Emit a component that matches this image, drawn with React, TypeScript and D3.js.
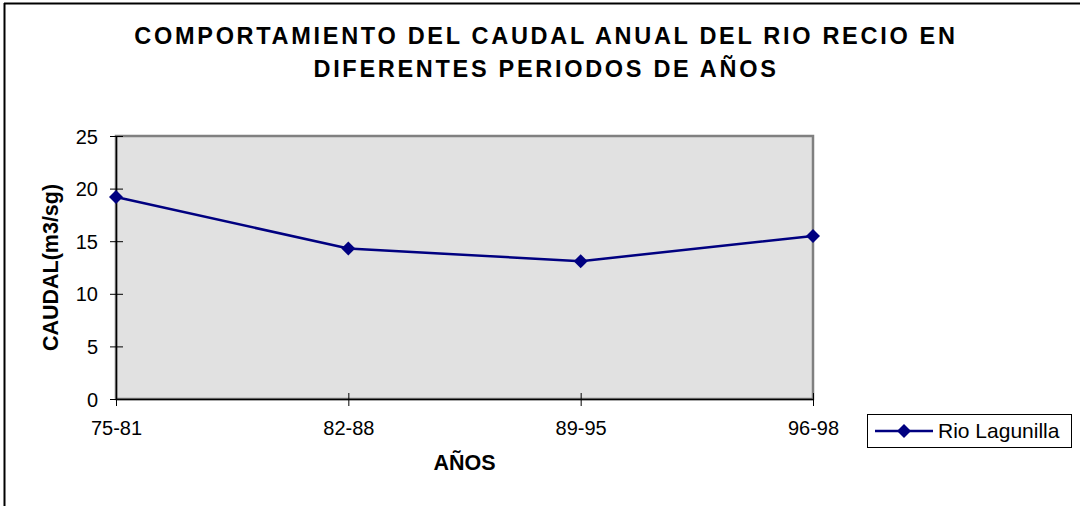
import { useEffect, useRef } from "react";
import * as d3 from "d3";

const PERIODS = ["75-81", "82-88", "89-95", "96-98"];
const CAUDAL = [19.2, 14.3, 13.1, 15.5];
const Y_TICKS = [0, 5, 10, 15, 20, 25];
const TITLE_LINES = [
  "COMPORTAMIENTO DEL CAUDAL ANUAL DEL RIO RECIO EN",
  "DIFERENTES PERIODOS DE AÑOS",
];
const SERIES_NAME = "Rio Lagunilla";

export default function App() {
  const svgRef = useRef<SVGSVGElement | null>(null);

  useEffect(() => {
    if (!svgRef.current) return;
    const W = 1080, H = 506;
    const plot = { left: 116, right: 813, top: 136, bottom: 399 };
    const font = "Arial, 'Liberation Sans', sans-serif";
    const navy = "#000080";

    const svg = d3.select(svgRef.current);
    svg.selectAll("*").remove();
    svg.attr("width", W).attr("height", H).attr("viewBox", `0 0 ${W} ${H}`);

    // outer frame (only left and top visible)
    svg.append("rect").attr("x", 0).attr("y", 0).attr("width", W).attr("height", H).attr("fill", "#fff");
    svg.append("line").attr("x1", 4.5).attr("x2", 4.5).attr("y1", 3).attr("y2", H).attr("stroke", "#000").attr("stroke-width", 2);
    svg.append("line").attr("x1", 4).attr("x2", W).attr("y1", 3.5).attr("y2", 3.5).attr("stroke", "#000").attr("stroke-width", 2);

    // title
    TITLE_LINES.forEach((t, i) => {
      svg.append("text")
        .attr("x", 546).attr("y", 43.5 + i * 33.5)
        .attr("text-anchor", "middle")
        .attr("font-family", font).attr("font-weight", "bold").attr("font-size", 23.5)
        .attr("letter-spacing", 2.7)
        .text(t);
    });

    const x = d3.scalePoint().domain(PERIODS).range([plot.left, plot.right]);
    const y = d3.scaleLinear().domain([0, 25]).range([plot.bottom, plot.top]);

    // plot area
    svg.append("rect")
      .attr("x", plot.left).attr("y", plot.top)
      .attr("width", plot.right - plot.left).attr("height", plot.bottom - plot.top)
      .attr("fill", "#e1e1e1").attr("stroke", "#808080").attr("stroke-width", 2.5);

    // y axis
    const gy = svg.append("g").attr("transform", `translate(${plot.left},0)`)
      .call(d3.axisLeft(y).tickValues(Y_TICKS).tickSize(0).tickPadding(18));
    gy.select(".domain").attr("stroke", "#000").attr("stroke-width", 1.5);
    gy.selectAll(".tick").append("line")
      .attr("x1", -6).attr("x2", 7).attr("stroke", "#000").attr("stroke-width", 1);
    gy.selectAll("text").attr("font-family", font).attr("font-size", 20).attr("fill", "#000").attr("dy", "0.35em");

    // x axis
    const gx = svg.append("g").attr("transform", `translate(0,${plot.bottom})`)
      .call(d3.axisBottom(x).tickSize(0));
    gx.select(".domain").attr("stroke", "#000").attr("stroke-width", 1.5);
    gx.selectAll(".tick").append("line")
      .attr("y1", -6).attr("y2", 7).attr("stroke", "#000").attr("stroke-width", 1);
    gx.selectAll("text").attr("font-family", font).attr("font-size", 20).attr("fill", "#000")
      .attr("y", 36).attr("dy", 0);

    // axis titles
    svg.append("text")
      .attr("x", (plot.left + plot.right) / 2).attr("y", 470)
      .attr("text-anchor", "middle")
      .attr("font-family", font).attr("font-weight", "bold").attr("font-size", 21.5)
      .text("AÑOS");
    svg.append("text")
      .attr("transform", `translate(58,${(plot.top + plot.bottom) / 2}) rotate(-90)`)
      .attr("text-anchor", "middle")
      .attr("font-family", font).attr("font-weight", "bold").attr("font-size", 21.5)
      .text("CAUDAL(m3/sg)");

    // line + markers
    const pts = PERIODS.map((p, i) => ({ p, v: CAUDAL[i] }));
    svg.append("path")
      .datum(pts)
      .attr("d", d3.line<{ p: string; v: number }>().x((d) => x(d.p)!).y((d) => y(d.v)))
      .attr("fill", "none").attr("stroke", navy).attr("stroke-width", 2.5);
    const diamond = d3.symbol().type(d3.symbolDiamond2).size(125)();
    svg.selectAll("path.mk").data(pts).enter().append("path")
      .attr("class", "mk")
      .attr("d", diamond)
      .attr("transform", (d) => `translate(${x(d.p)},${y(d.v)})`)
      .attr("fill", navy);

    // legend
    const lg = svg.append("g").attr("transform", "translate(867,414)");
    lg.append("rect").attr("x", 0.5).attr("y", 0.5).attr("width", 204).attr("height", 33)
      .attr("fill", "#fff").attr("stroke", "#000").attr("stroke-width", 1);
    lg.append("line").attr("x1", 8).attr("x2", 66).attr("y1", 17).attr("y2", 17)
      .attr("stroke", navy).attr("stroke-width", 2.5);
    lg.append("path").attr("d", diamond).attr("transform", "translate(37,17)").attr("fill", navy);
    lg.append("text").attr("x", 71).attr("y", 24)
      .attr("font-family", font).attr("font-size", 21).attr("fill", "#000")
      .text(SERIES_NAME);
  }, []);

  return <svg ref={svgRef} style={{ display: "block", position: "absolute", left: 0, top: 0 }} />;
}
